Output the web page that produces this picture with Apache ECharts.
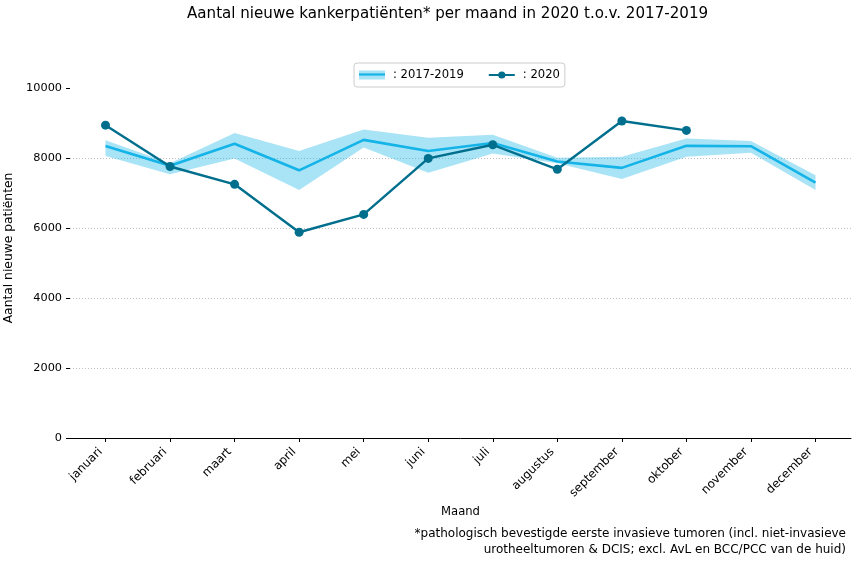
<!DOCTYPE html>
<html><head><meta charset="utf-8">
<script src="https://cdn.jsdelivr.net/npm/echarts@6/dist/echarts.min.js"></script>
<style>html,body{margin:0;padding:0;background:#fff}#c{width:857px;height:562px}</style>
</head><body><div id="c"></div>
<script>
const months = ['januari','februari','maart','april','mei','juni','juli','augustus','september','oktober','november','december'];
const mean1719 = [8345, 7780, 8410, 7650, 8520, 8200, 8430, 7900, 7720, 8350, 8340, 7300];
const lower1719 = [8060, 7540, 7990, 7090, 8300, 7580, 8130, 7850, 7400, 8040, 8150, 7090];
const upper1719 = [8510, 7850, 8720, 8200, 8820, 8580, 8670, 8010, 8040, 8560, 8490, 7510];
const v2020 = [8940, 7760, 7250, 5880, 6390, 7990, 8380, 7680, 9060, 8790, null, null];
const yTicks = [0, 2000, 4000, 6000, 8000, 10000];
const footnote = '*pathologisch bevestigde eerste invasieve tumoren (incl. niet-invasieve\nurotheeltumoren & DCIS; excl. AvL en BCC/PCC van de huid)';

const FONT = 'DejaVu Sans';
const idx = months.map((m, i) => i);
const pair = arr => arr.map((v, i) => [i, v]);
const bandData = months.map((m, i) => [i, lower1719[i], upper1719[i]]);

function renderBand(params, api) {
  if (params.dataIndex !== 0) return null;
  const top = bandData.map(d => api.coord([d[0], d[2]]));
  const bot = bandData.slice().reverse().map(d => api.coord([d[0], d[1]]));
  return {
    type: 'polygon',
    shape: {points: top.concat(bot)},
    style: {fill: 'rgba(0,174,230,0.34)', stroke: null}
  };
}

const chart = echarts.init(document.getElementById('c'), null, {renderer: 'canvas'});
chart.setOption({
  animation: false,
  textStyle: {fontFamily: FONT},
  title: {
    text: 'Aantal nieuwe kankerpatiënten* per maand in 2020 t.o.v. 2017-2019',
    left: 187, top: 7, padding: 0,
    textStyle: {fontFamily: FONT, fontSize: 15.1, fontWeight: 'normal', color: '#000'}
  },
  legend: {
    left: 354, top: 63,
    padding: [6, 5, 6, 5],
    itemGap: 24, itemWidth: 26, itemHeight: 9,
    borderColor: '#cccccc', borderWidth: 1, borderRadius: 3,
    textStyle: {fontFamily: FONT, fontSize: 11.6, color: '#000', padding: [0, 0, 0, 3]},
    data: [
      {name: ': 2017-2019', icon: 'rect', itemStyle: {color: '#a8e3f6'}},
      {name: ': 2020'}
    ]
  },
  grid: {left: 70, right: 6, top: 58, height: 380, containLabel: false, outerBoundsMode: 'none'},
  xAxis: {
    type: 'value', min: -0.55, max: 11.55,
    axisLine: {show: true, onZero: false, lineStyle: {color: '#000', width: 1}},
    axisTick: {show: true, length: 4, customValues: idx, lineStyle: {color: '#000'}},
    splitLine: {show: false},
    axisLabel: {
      customValues: idx, rotate: 45, fontFamily: FONT, fontSize: 11.8, color: '#000', margin: 7,
      padding: [0, 7, 0, 0],
      formatter: v => months[Math.round(v)]
    },
    name: 'Maand', nameLocation: 'middle', nameGap: 67,
    nameTextStyle: {fontFamily: FONT, fontSize: 11.6, color: '#000'}
  },
  yAxis: {
    type: 'value', min: 0, max: 10860,
    axisLine: {show: false, onZero: false},
    axisTick: {show: true, length: 4, lineStyle: {color: '#000'}, customValues: yTicks},
    axisLabel: {fontFamily: FONT, fontSize: 11.3, color: '#000', margin: 8, customValues: yTicks,
      formatter: v => String(v)},
    splitLine: {show: true, showMinLine: false, showMaxLine: false, lineStyle: {color: '#b0b0b0', type: [1, 2], width: 0.8}},
    name: 'Aantal nieuwe patiënten', nameLocation: 'middle', nameGap: 49, nameRotate: 90,
    nameTextStyle: {fontFamily: FONT, fontSize: 12.3, color: '#000'}
  },
  series: [
    {name: 'band', type: 'custom', data: bandData, renderItem: renderBand, silent: true, z: 1,
     encode: {x: 0, y: [1, 2]}},
    {name: ': 2017-2019', type: 'line', data: pair(mean1719), symbol: 'none',
     lineStyle: {color: '#14b4e8', width: 2.6}, itemStyle: {color: '#14b4e8'}, z: 2},
    {name: ': 2020', type: 'line', data: pair(v2020), symbol: 'circle', symbolSize: 9,
     lineStyle: {color: '#006f8e', width: 2.4}, itemStyle: {color: '#006f8e'}, z: 3}
  ],
  graphic: [
    {type: 'line', z: 100, shape: {x1: 359, y1: 74.5, x2: 385, y2: 74.5},
     style: {stroke: '#14b4e8', lineWidth: 2.2}},
    {type: 'text', right: 11, top: 526,
     style: {text: footnote, textAlign: 'right', fontFamily: FONT, fontSize: 12, lineHeight: 16, fill: '#000'}}
  ]
});
</script></body></html>
